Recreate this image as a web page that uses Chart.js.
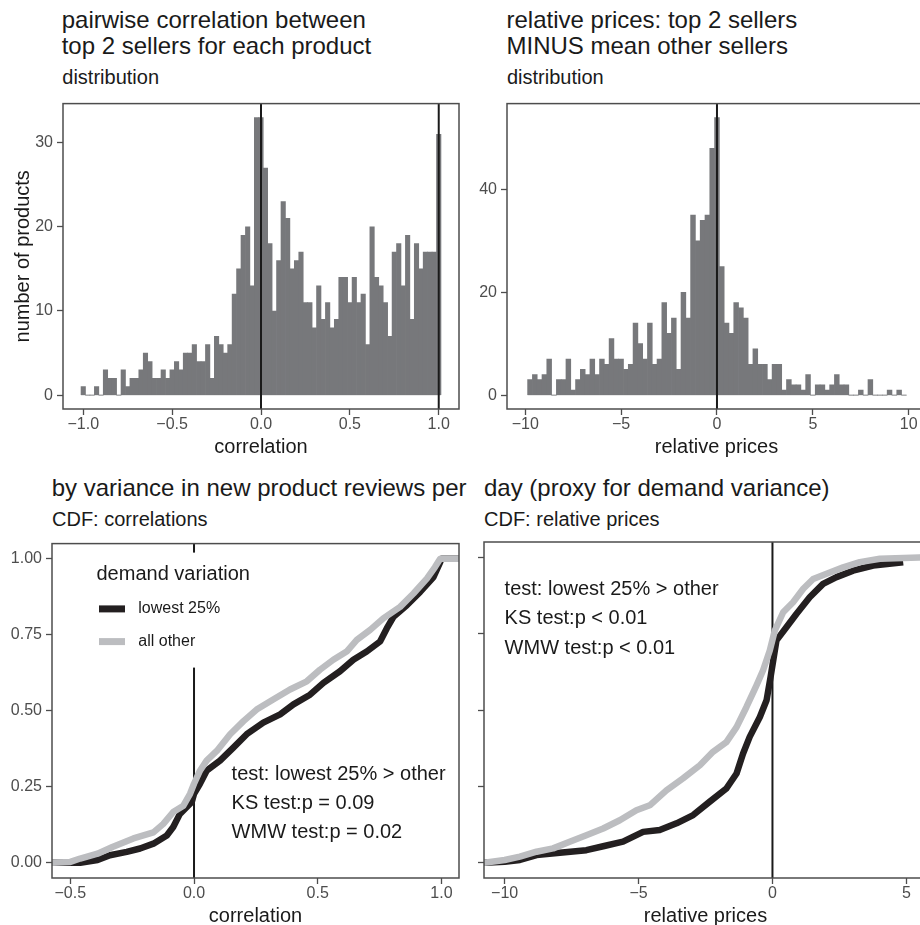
<!DOCTYPE html>
<html>
<head>
<meta charset="utf-8">
<script src="https://cdn.jsdelivr.net/npm/chart.js@4.4.1/dist/chart.umd.min.js"></script>
<style>
  html, body { margin: 0; padding: 0; background: #fff; overflow: hidden; }
  #fig { position: relative; width: 920px; height: 925px; overflow: hidden;
         font-family: "Liberation Sans", Arial, sans-serif; color: #1a1a1a; }
  #fig canvas { position: absolute; }
  .ttl { position: absolute; font-size: 24px; line-height: 26.7px; white-space: nowrap; }
  .sub { position: absolute; font-size: 20px; line-height: 24px; white-space: nowrap; }
</style>
</head>
<body>
<div id="fig">
  <div class="ttl" style="left:61.7px;top:6.6px">pairwise correlation between<br>top 2 sellers for each product</div>
  <div class="sub" style="left:62.3px;top:65.1px">distribution</div>
  <div class="ttl" style="left:506.5px;top:6.6px">relative prices: top 2 sellers<br>MINUS mean other sellers</div>
  <div class="sub" style="left:507px;top:65.1px">distribution</div>
  <div class="ttl" style="left:51.7px;top:475px">by variance in new product reviews per</div>
  <div class="sub" style="left:52px;top:506.8px">CDF: correlations</div>
  <div class="ttl" style="left:484px;top:475px">day (proxy for demand variance)</div>
  <div class="sub" style="left:484px;top:506.8px">CDF: relative prices</div>

  <canvas id="histCorr" width="470" height="369" style="left:0;top:90px;width:470px;height:369px"></canvas>
  <canvas id="histPrice" width="470" height="369" style="left:470px;top:90px;width:470px;height:369px"></canvas>
  <canvas id="cdfCorr" width="470" height="398" style="left:0;top:530px;width:470px;height:398px"></canvas>
  <canvas id="cdfPrice" width="470" height="398" style="left:470px;top:530px;width:470px;height:398px"></canvas>
</div>

<script>
// --- histogram: pairwise correlation, bins of 0.025 centred from -1.0 to 1.0
const corrBinWidth = 0.025;
const corrFirstCenter = -1.0;
const corrCounts = [
  1, 0, 0, 1, 0, 3, 2, 2, 0, 3, 1, 2, 2, 3, 5, 4, 2, 2, 3, 2,
  3, 4, 3, 5, 5, 6, 4, 4, 6, 2, 7, 6, 5, 6, 12, 15, 19, 20, 13, 33,
  33, 27, 18, 10, 16, 23, 21, 15, 16, 17, 11, 11, 8, 13, 9, 11, 8, 9, 14, 14,
  11, 14, 11, 12, 6, 20, 14, 13, 11, 7, 17, 18, 13, 19, 9, 18, 15, 17, 17, 17,
  31,
];
const corrRules = [0, 1];

// --- histogram: relative prices, bins of 0.25 centred from -9.75 to 9.75
const priceBinWidth = 0.25;
const priceFirstCenter = -9.75;
const priceCounts = [
  3, 4, 3, 4, 7, 0, 3, 3, 7, 1, 3, 5, 4, 7, 4, 7, 6, 11, 7,
  7, 5, 6, 14, 10, 7, 14, 6, 7, 18, 12, 15, 5, 20, 15, 35, 30, 34, 35, 48,
  54,
  25, 14, 12, 18, 17, 15, 6, 9, 6, 6, 3, 6, 6, 1, 3, 2, 2, 1, 4, 0,
  2, 2, 1, 2, 4, 2, 2, 0, 0, 1, 0, 3, 0, 0, 0, 1, 0, 1, 0,
];
const priceRules = [0];

// --- CDF of correlations by demand variation
const cdfCorrLowX = [-0.574, -0.46, -0.39, -0.34, -0.272, -0.218, -0.164, -0.11, -0.084, -0.057,
  -0.03, -0.009, 0.0, 0.024, 0.051, 0.105, 0.159, 0.213, 0.28, 0.348, 0.402, 0.469, 0.523,
  0.59, 0.644, 0.698, 0.752, 0.779, 0.806, 0.86, 0.914, 0.968, 0.995, 1.0, 1.071];
const cdfCorrLowY = [0, 0, 0.009, 0.025, 0.036, 0.047, 0.063, 0.09, 0.118, 0.161,
  0.183, 0.2, 0.227, 0.26, 0.303, 0.336, 0.379, 0.423, 0.461, 0.488, 0.521, 0.553, 0.592,
  0.63, 0.668, 0.695, 0.728, 0.771, 0.809, 0.847, 0.891, 0.94, 0.989, 1.0, 1.0];
const cdfCorrAllX = [-0.574, -0.5, -0.46, -0.39, -0.33, -0.245, -0.164, -0.124, -0.084, -0.043,
  -0.016, 0.0, 0.024, 0.051, 0.092, 0.146, 0.2, 0.253, 0.32, 0.388, 0.456, 0.509, 0.563,
  0.617, 0.658, 0.712, 0.765, 0.833, 0.887, 0.941, 0.974, 0.995, 1.071];
const cdfCorrAllY = [0, 0.003, 0.014, 0.03, 0.052, 0.08, 0.1, 0.128, 0.167, 0.188,
  0.227, 0.26, 0.303, 0.336, 0.368, 0.423, 0.466, 0.504, 0.537, 0.57, 0.597, 0.635, 0.668,
  0.695, 0.733, 0.766, 0.804, 0.842, 0.886, 0.935, 0.973, 1.0, 1.0];

// --- CDF of relative prices by demand variation
const cdfPriceLowX = [-10.77, -10, -9.43, -8.81, -7.94, -6.95, -6.32, -5.58, -4.83, -4.21,
  -3.58, -2.96, -2.34, -1.72, -1.34, -1.10, -0.85, -0.47, -0.22, -0.07, 0.15, 0.52, 0.90,
  1.39, 1.89, 2.39, 3.01, 3.76, 4.88];
const cdfPriceLowY = [0, 0.003, 0.009, 0.025, 0.033, 0.041, 0.054, 0.069, 0.101, 0.107,
  0.129, 0.156, 0.2, 0.243, 0.292, 0.357, 0.412, 0.477, 0.532, 0.608, 0.728, 0.771, 0.815,
  0.869, 0.913, 0.935, 0.956, 0.973, 0.984];
const cdfPriceAllX = [-10.77, -10, -9.43, -8.81, -8.19, -7.57, -6.95, -6.32, -5.70, -5.08,
  -4.58, -3.96, -3.34, -2.71, -2.22, -1.72, -1.34, -0.97, -0.60, -0.35, -0.10, 0.087, 0.40,
  0.77, 1.15, 1.52, 2.02, 2.64, 3.26, 4.01, 5.77];
const cdfPriceAllY = [0, 0.009, 0.02, 0.036, 0.047, 0.069, 0.09, 0.112, 0.139, 0.172,
  0.188, 0.237, 0.276, 0.319, 0.363, 0.395, 0.444, 0.51, 0.58, 0.63, 0.695, 0.76, 0.82,
  0.853, 0.897, 0.929, 0.946, 0.967, 0.984, 0.995, 1.0];

const groupLabels = ['lowest 25%', 'all other'];
const legendTitle = 'demand variation';
const testLinesCorr = ['test: lowest 25% > other', 'KS test:p = 0.09', 'WMW test:p = 0.02'];
const testLinesPrice = ['test: lowest 25% > other', 'KS test:p < 0.01', 'WMW test:p < 0.01'];

// tick values / labels
const corrTicks = [-1, -0.5, 0, 0.5, 1];
const corrTickLabels = ['\u22121.0', '\u22120.5', '0.0', '0.5', '1.0'];
const cdfCorrTicks = [-0.5, 0, 0.5, 1];
const cdfCorrTickLabels = ['\u22120.5', '0.0', '0.5', '1.0'];
const priceTicks = [-10, -5, 0, 5, 10];
const priceTickLabels = ['\u221210', '\u22125', '0', '5', '10'];
const corrCountTicks = [0, 10, 20, 30];
const corrCountLabels = ['0', '10', '20', '30'];
const priceCountTicks = [0, 20, 40];
const priceCountLabels = ['0', '20', '40'];
const cdfTicks = [0, 0.25, 0.5, 0.75, 1];
const cdfTickLabels = ['0.00', '0.25', '0.50', '0.75', '1.00'];

const INK = '#1a1a1a';
const TICK_INK = '#4d4d4d';
const FRAME = '#4d4d4d';
const BAR = '#77787b';
const LOW = '#231f20';
const ALL = '#bcbdc0';
const FONT = '"Liberation Sans", Arial, sans-serif';

Chart.defaults.font.family = FONT;
Chart.defaults.animation = false;

// box round the panel (ggplot panel.border)
const panelBorder = {
  id: 'panelBorder',
  afterDraw(chart) {
    const { ctx, chartArea: a } = chart;
    ctx.save();
    ctx.strokeStyle = FRAME;
    ctx.lineWidth = 1.5;
    ctx.strokeRect(a.left, a.top, a.right - a.left, a.bottom - a.top);
    ctx.restore();
  },
};

// test results written inside the CDF panels
const testText = {
  id: 'testText',
  afterDatasetsDraw(chart, args, o) {
    if (!o.lines) return;
    const { ctx, scales } = chart;
    ctx.save();
    ctx.fillStyle = INK;
    ctx.font = `20px ${FONT}`;
    ctx.textAlign = 'left';
    ctx.textBaseline = 'alphabetic';
    const x = scales.x.getPixelForValue(o.x);
    o.lines.forEach((t, i) => ctx.fillText(t, x, scales.y.getPixelForValue(o.y[i])));
    ctx.restore();
  },
};

// ggplot-like legend on a white box
const cdfLegend = {
  id: 'cdfLegend',
  afterDatasetsDraw(chart, args, o) {
    if (!o.show) return;
    const { ctx, chartArea: a } = chart;
    const items = chart.data.datasets.filter(d => d.inLegend);
    ctx.save();
    ctx.fillStyle = '#fff';
    ctx.fillRect(a.left + 30, a.top + 9, 160, 115);
    ctx.fillStyle = INK;
    ctx.font = `20px ${FONT}`;
    ctx.textBaseline = 'alphabetic';
    ctx.fillText(o.title, a.left + 44.5, a.top + 36.3);
    ctx.font = `16px ${FONT}`;
    ctx.textBaseline = 'middle';
    items.forEach((d, i) => {
      const y = a.top + 65.3 + i * 32.7;
      ctx.strokeStyle = d.borderColor;
      ctx.lineWidth = 7;
      ctx.lineCap = 'butt';
      ctx.beginPath();
      ctx.moveTo(a.left + 47, y);
      ctx.lineTo(a.left + 73, y);
      ctx.stroke();
      ctx.fillStyle = INK;
      ctx.fillText(d.label, a.left + 86.3, y);
    });
    ctx.restore();
  },
};

function axis({ min, max, ticks, labels, size, title, titlePad, showLabels = true }) {
  return {
    type: 'linear',
    min, max,
    offset: false,
    afterBuildTicks: s => { s.ticks = ticks.map(v => ({ value: v })); },
    afterFit: s => { if (s.isHorizontal()) s.height = size; else s.width = size; },
    ticks: {
      display: showLabels,
      color: TICK_INK,
      font: { size: 16 },
      padding: 0,
      autoSkip: false,
      maxRotation: 0,
      callback: (v, i) => labels[i],
    },
    grid: {
      display: true, drawOnChartArea: false, drawTicks: true,
      tickLength: 6, tickColor: FRAME, tickWidth: 1.3, offset: false,
    },
    border: { display: false },
    title: title
      ? { display: true, text: title, color: INK, font: { size: 20 }, padding: titlePad }
      : { display: false },
  };
}

function ruleData(x, yMin, yMax) {
  return [{ x, y: yMin }, { x, y: yMax }];
}

function ruleSet(x, yMin, yMax, order) {
  return {
    type: 'line', data: ruleData(x, yMin, yMax), borderColor: INK, borderWidth: 2,
    pointRadius: 0, order,
  };
}

function histogram(id, firstCenter, binWidth, counts, rules, xAxis, yAxis, padding) {
  const centers = counts.map((_, i) => +(firstCenter + i * binWidth).toFixed(4));
  const bars = centers.map((x, i) => ({ x, y: counts[i] }));
  const edgeLo = centers[0] - binWidth / 2;
  const edgeHi = centers[centers.length - 1] + binWidth / 2;
  new Chart(document.getElementById(id), {
    type: 'bar',
    data: {
      datasets: [
        ...rules.map(r => ruleSet(r, yAxis.min, yAxis.max, 0)),
        {
          type: 'bar', data: bars, backgroundColor: BAR, borderWidth: 0,
          barPercentage: 1, categoryPercentage: 1, grouped: false, order: 1,
        },
        {
          type: 'line', data: [{ x: edgeLo, y: 0 }, { x: edgeHi, y: 0 }],
          borderColor: '#d9d9d9', borderWidth: 1, pointRadius: 0, order: 2,
        },
      ],
    },
    options: {
      responsive: false,
      events: [],
      layout: { padding, autoPadding: false },
      plugins: { legend: { display: false }, tooltip: { enabled: false } },
      scales: { x: xAxis, y: yAxis },
    },
    plugins: [panelBorder],
  });
}

function cdfChart(id, lowX, lowY, allX, allY, xAxis, yAxis, padding, text, legend) {
  const pts = (xs, ys) => xs.map((x, i) => ({ x, y: ys[i] }));
  const line = (label, color, data, order) => ({
    label, data, borderColor: color, borderWidth: 6.5, pointRadius: 0, tension: 0,
    borderJoinStyle: 'round', borderCapStyle: 'butt', inLegend: true, order,
  });
  new Chart(document.getElementById(id), {
    type: 'line',
    data: {
      datasets: [
        line(groupLabels[0], LOW, pts(lowX, lowY), 1),
        line(groupLabels[1], ALL, pts(allX, allY), 0),
        ruleSet(0, yAxis.min, yAxis.max, 2),
      ],
    },
    options: {
      responsive: false,
      events: [],
      layout: { padding, autoPadding: false },
      plugins: {
        legend: { display: false },
        tooltip: { enabled: false },
        testText: text,
        cdfLegend: legend,
      },
      scales: { x: xAxis, y: yAxis },
    },
    plugins: [testText, cdfLegend, panelBorder],
  });
}

histogram('histCorr', corrFirstCenter, corrBinWidth, corrCounts, corrRules,
  axis({ min: -1.114, max: 1.114, ticks: corrTicks, labels: corrTickLabels, size: 50,
         title: 'correlation', titlePad: { top: 0, bottom: 0 } }),
  axis({ min: -1.65, max: 34.65, ticks: corrCountTicks, labels: corrCountLabels, size: 63,
         title: 'number of products', titlePad: { top: 11, bottom: 0 } }),
  { top: 9, right: 11, left: 0, bottom: 0 });
// the y tick labels sit 4px from the tick marks
Chart.getChart('histCorr').options.scales.y.ticks.padding = 4;
Chart.getChart('histCorr').update();

histogram('histPrice', priceFirstCenter, priceBinWidth, priceCounts, priceRules,
  axis({ min: -10.95, max: 10.9, ticks: priceTicks, labels: priceTickLabels, size: 50,
         title: 'relative prices', titlePad: { top: 0, bottom: 0 } }),
  axis({ min: -2.7, max: 56.7, ticks: priceCountTicks, labels: priceCountLabels, size: 37 }),
  { top: 9, right: 14, left: 0, bottom: 0 });
Chart.getChart('histPrice').options.scales.y.ticks.padding = 4;
Chart.getChart('histPrice').update();

cdfChart('cdfCorr', cdfCorrLowX, cdfCorrLowY, cdfCorrAllX, cdfCorrAllY,
  axis({ min: -0.574, max: 1.071, ticks: cdfCorrTicks, labels: cdfCorrTickLabels, size: 50,
         title: 'correlation', titlePad: { top: 0, bottom: 0 } }),
  axis({ min: -0.05, max: 1.05, ticks: cdfTicks, labels: cdfTickLabels, size: 52 }),
  { top: 12, right: 11, left: 0, bottom: 0 },
  { lines: testLinesCorr, x: 0.152, y: [0.273, 0.178, 0.08] },
  { show: true, title: legendTitle });
Chart.getChart('cdfCorr').options.scales.y.ticks.padding = 4;
Chart.getChart('cdfCorr').update();

cdfChart('cdfPrice', cdfPriceLowX, cdfPriceLowY, cdfPriceAllX, cdfPriceAllY,
  axis({ min: -10.77, max: 5.77, ticks: priceTicks.slice(0, 4), labels: priceTickLabels, size: 50,
         title: 'relative prices', titlePad: { top: 0, bottom: 0 } }),
  axis({ min: -0.05, max: 1.05, ticks: cdfTicks, labels: cdfTickLabels, size: 14, showLabels: false }),
  { top: 12, right: 13, left: 0, bottom: 0 },
  { lines: testLinesPrice, x: -10, y: [0.876, 0.78, 0.683] },
  { show: false });
</script>
</body>
</html>
